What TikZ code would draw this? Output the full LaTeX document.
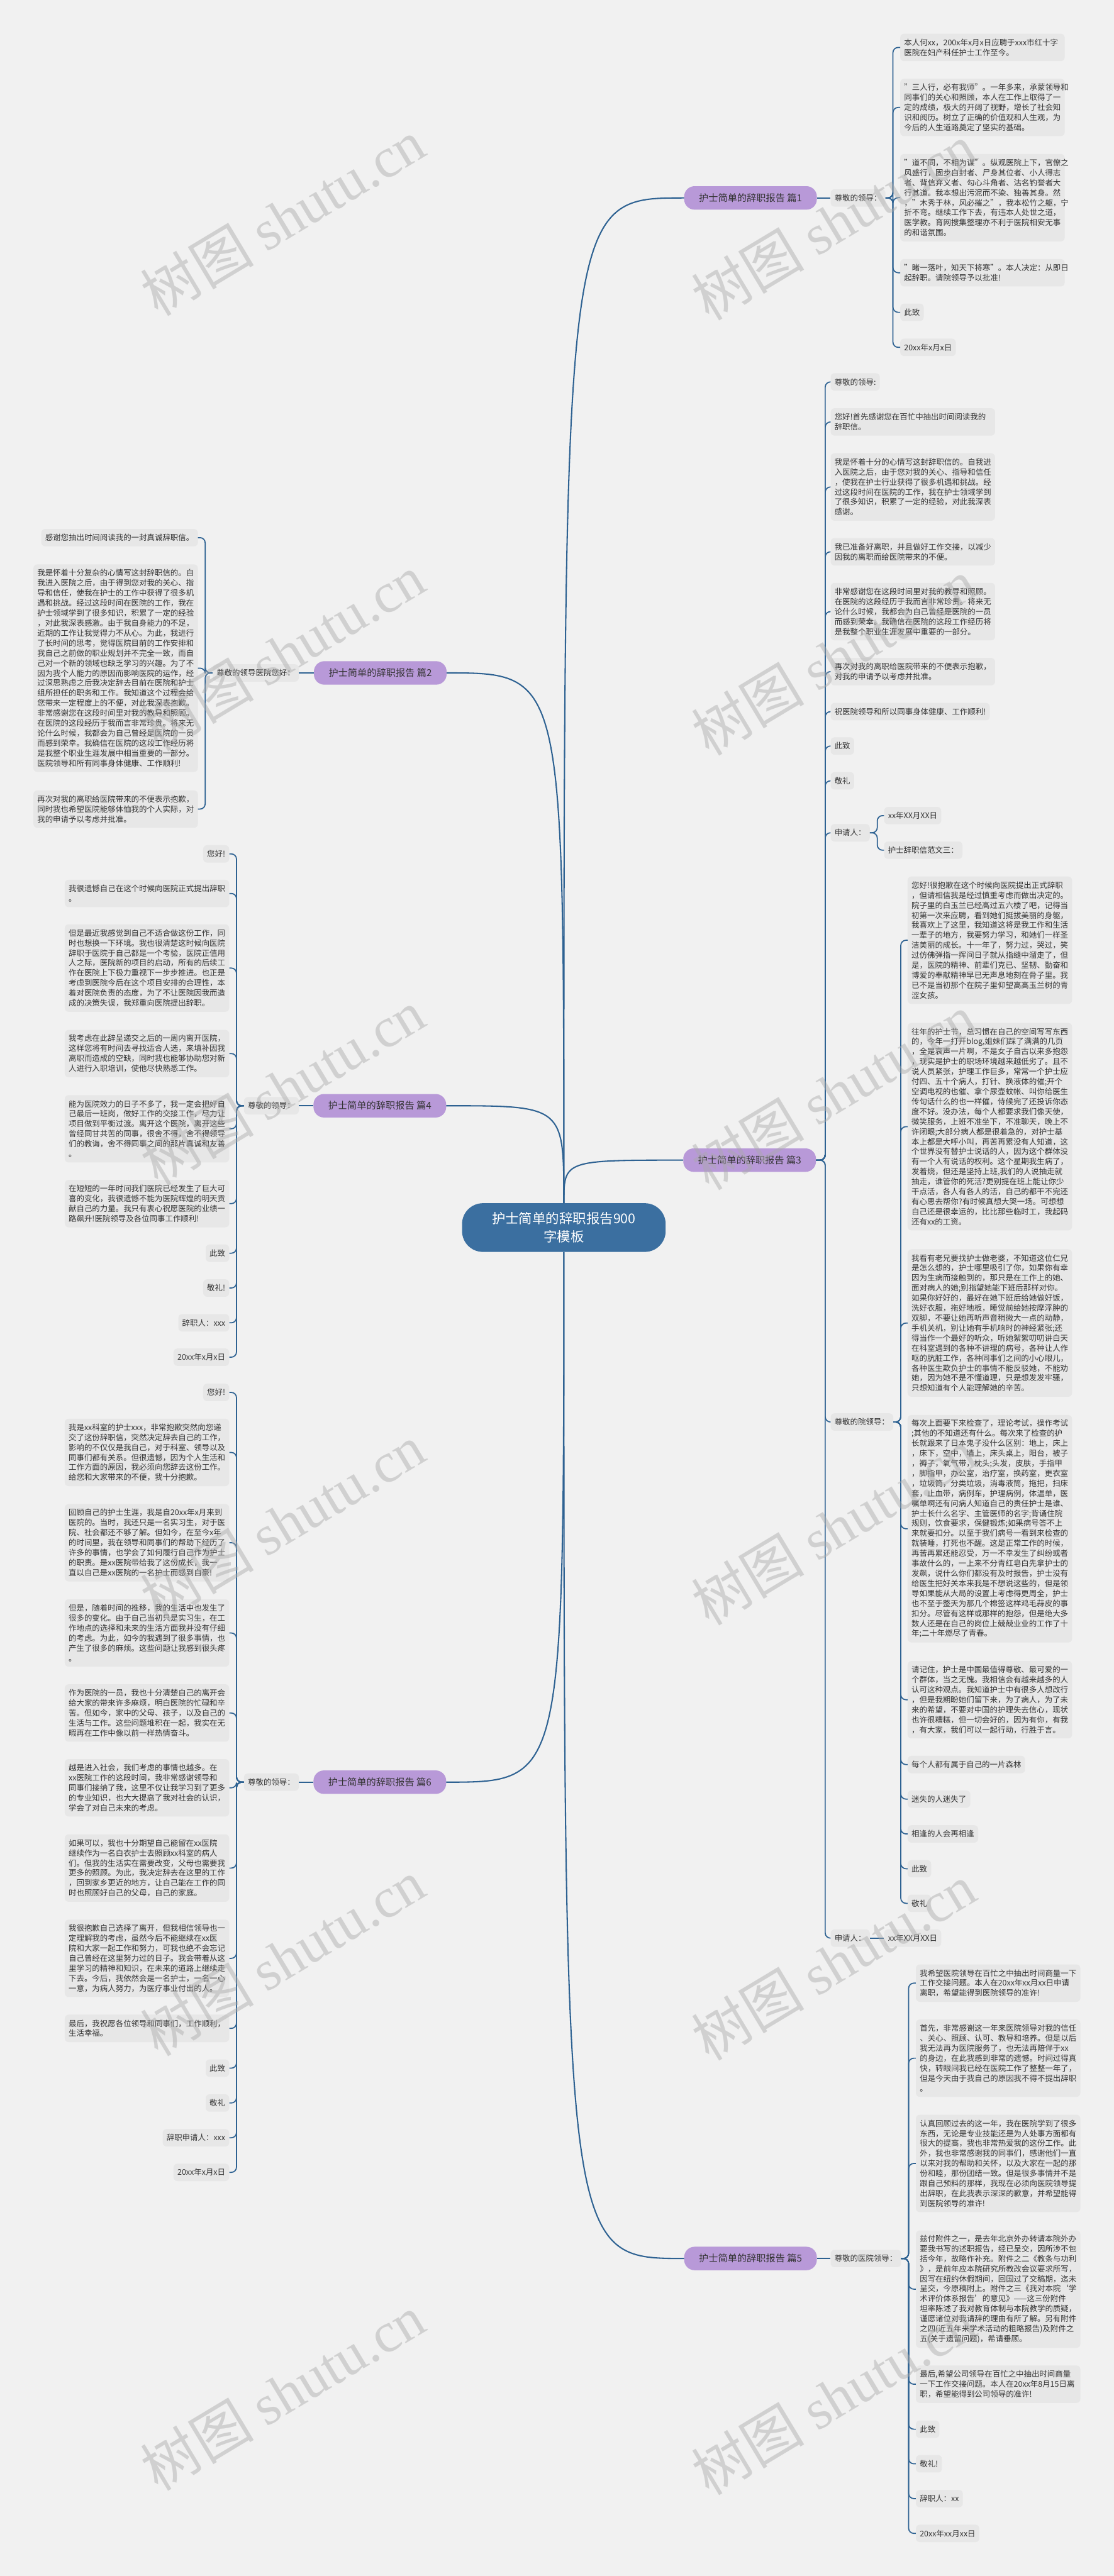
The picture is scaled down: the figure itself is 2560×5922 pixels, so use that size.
\documentclass[tikz,border=0pt]{standalone}
\usepackage{fontspec}
\setmainfont{Noto Sans CJK SC}
\newfontfamily\wmserif{Liberation Serif}
\definecolor{bgc}{RGB}{241,241,241}
\definecolor{boxc}{RGB}{231,231,231}
\definecolor{txtc}{RGB}{51,51,51}
\definecolor{linec}{RGB}{46,98,146}
\definecolor{pianc}{RGB}{184,153,216}
\definecolor{cenc}{RGB}{59,111,160}
\definecolor{wmc}{RGB}{170,170,170}
\tikzset{
 tb/.style={fill=boxc, text=txtc, rounded corners=9pt, inner xsep=9pt, inner ysep=2pt, font=\fontsize{18}{23}\selectfont},
 ml/.style={tb, text width=360pt, align=left, minimum height={23*#1+17}},
 sl/.style={tb, minimum height=40pt},
 pian/.style={fill=pianc, text=txtc, rounded corners=24pt, minimum width=305pt, minimum height=54pt, font=\fontsize{22}{26}\selectfont},
 cen/.style={fill=cenc, text=white, rounded corners=48pt, minimum width=468pt, minimum height=112pt, align=center, font=\fontsize{31}{42}\selectfont},
 mainc/.style={draw=linec, line width=3pt},
 sub/.style={draw=linec, line width=2.5pt, rounded corners=12pt},
 wm/.style={text=wmc, opacity=0.45, rotate=31, font=\fontsize{130}{130}\selectfont}
}
\begin{document}
\begin{tikzpicture}[x=1pt,y=-1pt]
\fill[bgc] (0,0) rectangle (2560,5922);
\useasboundingbox (0,0) rectangle (2560,5922);

% ---------- centre ----------
\node[cen] (c) at (1296,2822) {护士简单的辞职报告900\\字模板};

% ---------- 篇1 ----------
\node[pian] (p1) at (1725,455) {护士简单的辞职报告 篇1};
\node[sl,anchor=west] (r1lab) at (1909,455) {尊敬的领导：};
\node[ml=2,anchor=west] (r1a) at (2069,109) {本人何xx，200x年x月x日应聘于xxx市红十字\\医院在妇产科任护士工作至今。};
\node[ml=5,anchor=west] (r1b) at (2069,247) {"三人行，必有我师"。一年多来，承蒙领导和\\同事们的关心和照顾，本人在工作上取得了一\\定的成绩，极大的开阔了视野，增长了社会知\\识和阅历。树立了正确的价值观和人生观，为\\今后的人生道路奠定了坚实的基础。};
\node[ml=8,anchor=west] (r1c) at (2069,454.5) {"道不同，不相为谋"。纵观医院上下，官僚之\\风盛行，固步自封者、尸身其位者、小人得志\\者、背信弃义者、勾心斗角者、沽名钓誉者大\\行其道。我本想出污泥而不染、独善其身。然\\，"木秀于林，风必摧之"，我本松竹之躯，宁\\折不弯。继续工作下去，有违本人处世之道，\\医学教。育网搜集整理亦不利于医院相安无事\\的和谐氛围。};
\node[ml=2,anchor=west] (r1d) at (2069,627) {"睹一落叶，知天下将寒"。本人决定：从即日\\起辞职。请院领导予以批准!};
\node[sl,anchor=west] (r1e) at (2069,718) {此致};
\node[sl,anchor=west] (r1f) at (2069,798.5) {20xx年x月x日};

% ---------- 篇3 ----------
\node[pian] (p3) at (1723,2667) {护士简单的辞职报告 篇3};
\node[sl,anchor=west] (r3a) at (1909,878) {尊敬的领导:};
\node[ml=2,anchor=west] (r3b) at (1909,970) {您好!首先感谢您在百忙中抽出时间阅读我的\\辞职信。};
\node[ml=6,anchor=west] (r3c) at (1909,1119.5) {我是怀着十分的心情写这封辞职信的。自我进\\入医院之后，由于您对我的关心、指导和信任\\，使我在护士行业获得了很多机遇和挑战。经\\过这段时间在医院的工作，我在护士领域学到\\了很多知识，积累了一定的经验，对此我深表\\感谢。};
\node[ml=2,anchor=west] (r3d) at (1909,1268.5) {我已准备好离职，并且做好工作交接，以减少\\因我的离职而给医院带来的不便。};
\node[ml=5,anchor=west] (r3e) at (1909,1406) {非常感谢您在这段时间里对我的教导和照顾。\\在医院的这段经历于我而言非常珍贵。将来无\\论什么时候，我都会为自己曾经是医院的一员\\而感到荣幸。我确信在医院的这段工作经历将\\是我整个职业生涯发展中重要的一部分。};
\node[ml=2,anchor=west] (r3f) at (1909,1544) {再次对我的离职给医院带来的不便表示抱歉，\\对我的申请予以考虑并批准。};
\node[sl,anchor=west] (r3g) at (1909,1636) {祝医院领导和所以同事身体健康、工作顺利!};
\node[sl,anchor=west] (r3h) at (1909,1715) {此致};
\node[sl,anchor=west] (r3i) at (1909,1795) {敬礼};
\node[sl,anchor=west] (r3j) at (1909,1914.5) {申请人：};
\node[sl,anchor=west] (r3j1) at (2032,1875) {xx年XX月XX日};
\node[sl,anchor=west] (r3j2) at (2032,1954.5) {护士辞职信范文三：};
\node[sl,anchor=west] (r3k) at (1909,3269) {尊敬的院领导：};
\node[ml=12,anchor=west] (r3k1) at (2086,2161.5) {您好!很抱歉在这个时候向医院提出正式辞职\\，但请相信我是经过慎重考虑而做出决定的。\\院子里的白玉兰已经高过五六楼了吧，记得当\\初第一次来应聘，看到她们挺拔美丽的身躯，\\我喜欢上了这里，我知道这将是我工作和生活\\一辈子的地方，我要努力学习，和她们一样圣\\洁美丽的成长。十一年了，努力过，哭过，笑\\过仿佛弹指一挥间日子就从指缝中溜走了，但\\是，医院的精神、前辈们克已、坚韧、勤奋和\\博爱的奉献精神早已无声息地刻在骨子里。我\\已不是当初那个在院子里仰望高高玉兰树的青\\涩女孩。};
\node[ml=20,anchor=west] (r3k2) at (2086,2590) {往年的护士节，总习惯在自己的空间写写东西\\的，今年一打开blog,姐妹们踩了满满的几页\\，全是哀声一片啊，不是女子自古以来多抱怨\\，现实是护士的职场环境越来越低劣了。且不\\说人员紧张，护理工作巨多，常常一个护士应\\付四、五十个病人，打针、换液体的催;开个\\空调电视的也催、拿个尿壶蚊帐、叫你给医生\\传句话什么的也一样催，侍候完了还投诉你态\\度不好。没办法，每个人都要求我们像天使，\\微笑服务，上班不准坐下，不准聊天，晚上不\\许闭眼;大部分病人都是很着急的，对护士基\\本上都是大呼小叫，再苦再累没有人知道，这\\个世界没有替护士说话的人，因为这个群体没\\有一个人有说话的权利。这个星期我生病了，\\发着烧，但还是坚持上班,我们的人说抽走就\\抽走，谁管你的死活?更别提在班上能让你少\\干点活，各人有各人的活，自己的都干不完还\\有心思去帮你?有时候真想大哭一场。可想想\\自己还是很幸运的，比比那些临时工，我起码\\还有xx的工资。};
\node[ml=14,anchor=west] (r3k3) at (2086,3041.5) {我看有老兄要找护士做老婆，不知道这位仁兄\\是怎么想的，护士哪里吸引了你，如果你有幸\\因为生病而接触到的，那只是在工作上的她、\\面对病人的她;别指望她能下班后那样对你。\\如果你好好的，最好在她下班后给她做好饭，\\洗好衣服，拖好地板，睡觉前给她按摩浮肿的\\双脚，不要让她再听声音稍微大一点的动静，\\手机关机，别让她有手机响时的神经紧张;还\\得当作一个最好的听众，听她絮絮叨叨讲白天\\在科室遇到的各种不讲理的病号，各种让人作\\呕的肮脏工作，各种同事们之间的小心眼儿，\\各种医生欺负护士的事情不能反驳她，不能劝\\她，因为她不是不懂道理，只是想发发牢骚，\\只想知道有个人能理解她的辛苦。};
\node[ml=22,anchor=west] (r3k4) at (2086,3514.5) {每次上面要下来检查了，理论考试，操作考试\\;其他的不知道还有什么。每次来了检查的护\\长就跟来了日本鬼子没什么区别：地上，床上\\，床下，空中，墙上，床头桌上，阳台，被子\\，褥子，氧气带，枕头;头发，皮肤，手指甲\\，脚指甲，办公室，治疗室，换药室，更衣室\\，垃圾筒，分类垃圾，消毒液筒，拖把，扫床\\套，止血带，病例车，护理病例，体温单，医\\嘱单啊还有问病人知道自己的责任护士是谁、\\护士长什么名字、主管医师的名字;背诵住院\\规则，饮食要求，保健锻炼;如果病号答不上\\来就要扣分。以至于我们病号一看到来检查的\\就装睡，打死也不醒。这是正常工作的时候，\\再苦再累还能忍受，万一不幸发生了纠纷或者\\事故什么的，一上来不分青红皂白先拿护士的\\发飙，说什么你们都没有及时报告，护士没有\\给医生把好关本来我是不想说这些的，但是领\\导如果能从大局的设置上考虑得更周全，护士\\也不至于整天为那几个棉签这样鸡毛蒜皮的事\\扣分。尽管有这样或那样的抱怨，但是绝大多\\数人还是在自己的岗位上兢兢业业的工作了十\\年;二十年燃尽了青春。};
\node[ml=7,anchor=west] (r3k5) at (2086,3907.5) {请记住，护士是中国最值得尊敬、最可爱的一\\个群体，当之无愧。我相信会有越来越多的人\\认可这种观点。我知道护士中有很多人想改行\\，但是我期盼她们留下来，为了病人，为了未\\来的希望，不要对中国的护理失去信心，现状\\也许很糟糕，但一切会好的，因为有你，有我\\，有大家，我们可以一起行动，行胜于言。};
\node[sl,anchor=west] (r3k6) at (2086,4056.5) {每个人都有属于自己的一片森林};
\node[sl,anchor=west] (r3k7) at (2086,4136) {迷失的人迷失了};
\node[sl,anchor=west] (r3k8) at (2086,4216) {相逢的人会再相逢};
\node[sl,anchor=west] (r3k9) at (2086,4296) {此致};
\node[sl,anchor=west] (r3k10) at (2086,4375.5) {敬礼};
\node[sl,anchor=west] (r3l) at (1909,4455.5) {申请人：};
\node[sl,anchor=west] (r3l1) at (2032,4455.5) {xx年XX月XX日};

% ---------- 篇5 ----------
\node[pian] (p5) at (1725,5192) {护士简单的辞职报告 篇5};
\node[sl,anchor=west] (r5lab) at (1909,5192) {尊敬的医院领导：};
\node[ml=3,anchor=west] (r5a) at (2105,4559) {我希望医院领导在百忙之中抽出时间商量一下\\工作交接问题。本人在20xx年xx月xx日申请\\离职，希望能得到医院领导的准许!};
\node[ml=7,anchor=west] (r5b) at (2105,4731.5) {首先，非常感谢这一年来医院领导对我的信任\\、关心、照顾、认可、教导和培养。但是以后\\我无法再为医院服务了，也无法再陪伴于xx\\的身边，在此我感到非常的遗憾。时间过得真\\快，转眼间我已经在医院工作了整整一年了，\\但是今天由于我自己的原因我不得不提出辞职\\。};
\node[ml=9,anchor=west] (r5c) at (2105,4973.5) {认真回顾过去的这一年，我在医院学到了很多\\东西，无论是专业技能还是为人处事方面都有\\很大的提高，我也非常热爱我的这份工作。此\\外，我也非常感谢我的同事们，感谢他们一直\\以来对我的帮助和关怀，以及大家在一起的那\\份和睦，那份团结一致。但是很多事情并不是\\跟自己预料的那样，我现在必须向医院领导提\\出辞职，在此我表示深深的歉意，并希望能得\\到医院领导的准许!};
\node[ml=11,anchor=west] (r5d) at (2105,5262.5) {兹付附件之一，是去年北京外办转请本院外办\\要我书写的述职报告，经已呈交，因所涉不包\\括今年，故略作补充。附件之二《教条与功利\\》，是前年应本院研究所教改会议要求所写，\\因写在纽约休假期间，回国过了交稿期，迄未\\呈交，今原稿附上。附件之三《我对本院‘学\\术评价体系报告’的意见》——这三份附件\\坦率陈述了我对教育体制与本院教学的质疑，\\谨愿诸位对我请辞的理由有所了解。另有附件\\之四(近五年来学术活动的粗略报告)及附件之\\五(关于遗留问题)，希请垂顾。};
\node[ml=3,anchor=west] (r5e) at (2105,5481) {最后,希望公司领导在百忙之中抽出时间商量\\一下工作交接问题。本人在20xx年8月15日离\\职，希望能得到公司领导的准许!};
\node[sl,anchor=west] (r5f) at (2105,5584.5) {此致};
\node[sl,anchor=west] (r5g) at (2105,5664) {敬礼!};
\node[sl,anchor=west] (r5h) at (2105,5744) {辞职人：xx};
\node[sl,anchor=west] (r5i) at (2105,5824) {20xx年xx月xx日};

% ---------- 篇2 ----------
\node[pian] (p2) at (874,1547) {护士简单的辞职报告 篇2};
\node[sl,anchor=east] (l2lab) at (687,1547) {尊敬的领导医院您好：};
\node[sl,anchor=east] (l2a) at (455,1236) {感谢您抽出时间阅读我的一封真诚辞职信。};
\node[ml=20,anchor=east] (l2b) at (455,1536) {我是怀着十分复杂的心情写这封辞职信的。自\\我进入医院之后，由于得到您对我的关心、指\\导和信任，使我在护士的工作中获得了很多机\\遇和挑战。经过这段时间在医院的工作，我在\\护士领域学到了很多知识，积累了一定的经验\\，对此我深表感激。由于我自身能力的不足，\\近期的工作让我觉得力不从心。为此，我进行\\了长时间的思考，觉得医院目前的工作安排和\\我自己之前做的职业规划并不完全一致，而自\\己对一个新的领域也缺乏学习的兴趣。为了不\\因为我个人能力的原因而影响医院的运作，经\\过深思熟虑之后我决定辞去目前在医院和护士\\组所担任的职务和工作。我知道这个过程会给\\您带来一定程度上的不便，对此我深表抱歉。\\非常感谢您在这段时间里对我的教导和照顾。\\在医院的这段经历于我而言非常珍贵。将来无\\论什么时候，我都会为自己曾经是医院的一员\\而感到荣幸。我确信在医院的这段工作经历将\\是我整个职业生涯发展中相当重要的一部分。\\医院领导和所有同事身体健康、工作顺利!};
\node[ml=3,anchor=east] (l2c) at (455,1860) {再次对我的离职给医院带来的不便表示抱歉，\\同时我也希望医院能够体恤我的个人实际，对\\我的申请予以考虑并批准。};

% ---------- 篇4 ----------
\node[pian] (p4) at (873,2542) {护士简单的辞职报告 篇4};
\node[sl,anchor=east] (l4lab) at (687,2542) {尊敬的领导：};
\node[sl,anchor=east] (l4a) at (527,1963) {您好!};
\node[ml=2,anchor=east] (l4b) at (527,2054) {我很遗憾自己在这个时候向医院正式提出辞职\\。};
\node[ml=8,anchor=east] (l4c) at (527,2225.5) {但是最近我感觉到自己不适合做这份工作，同\\时也想换一下环境。我也很清楚这时候向医院\\辞职于医院于自己都是一个考验，医院正值用\\人之际，医院新的项目的启动，所有的后续工\\作在医院上下极力重视下一步步推进。也正是\\考虑到医院今后在这个项目安排的合理性，本\\着对医院负责的态度，为了不让医院因我而造\\成的决策失误，我郑重向医院提出辞职。};
\node[ml=4,anchor=east] (l4d) at (527,2422) {我考虑在此辞呈递交之后的一周内离开医院，\\这样您将有时间去寻找适合人选，来填补因我\\离职而造成的空缺，同时我也能够协助您对新\\人进行入职培训，使他尽快熟悉工作。};
\node[ml=6,anchor=east] (l4e) at (527,2595) {能为医院效力的日子不多了，我一定会把好自\\己最后一班岗，做好工作的交接工作，尽力让\\项目做到平衡过渡。离开这个医院，离开这些\\曾经同甘共苦的同事，很舍不得，舍不得领导\\们的教诲，舍不得同事之间的那片真诚和友善\\。};
\node[ml=4,anchor=east] (l4f) at (527,2767) {在短短的一年时间我们医院已经发生了巨大可\\喜的变化，我很遗憾不能为医院辉煌的明天贡\\献自己的力量。我只有衷心祝愿医院的业绩一\\路飙升!医院领导及各位同事工作顺利!};
\node[sl,anchor=east] (l4g) at (527,2881) {此致};
\node[sl,anchor=east] (l4h) at (527,2961) {敬礼!};
\node[sl,anchor=east] (l4i) at (527,3041) {辞职人：xxx};
\node[sl,anchor=east] (l4j) at (527,3120) {20xx年x月x日};

% ---------- 篇6 ----------
\node[pian] (p6) at (873,4097) {护士简单的辞职报告 篇6};
\node[sl,anchor=east] (l6lab) at (687,4097) {尊敬的领导：};
\node[sl,anchor=east] (l6a) at (527,3201) {您好!};
\node[ml=6,anchor=east] (l6b) at (527,3339) {我是xx科室的护士xxx，非常抱歉突然向您递\\交了这份辞职信，突然决定辞去自己的工作，\\影响的不仅仅是我自己，对于科室、领导以及\\同事们都有关系。但很遗憾，因为个人生活和\\工作方面的原因，我必须向您辞去这份工作。\\给您和大家带来的不便，我十分抱歉。};
\node[ml=7,anchor=east] (l6c) at (527,3546.5) {回顾自己的护士生涯，我是自20xx年x月来到\\医院的。当时，我还只是一名实习生，对于医\\院、社会都还不够了解。但如今，在至今x年\\的时间里，我在领导和同事们的帮助下经历了\\许多的事情，也学会了如何履行自己作为护士\\的职责。是xx医院带给我了这份成长，我一\\直以自己是xx医院的一名护士而感到自豪!};
\node[ml=6,anchor=east] (l6d) at (527,3754) {但是，随着时间的推移，我的生活中也发生了\\很多的变化。由于自己当初只是实习生，在工\\作地点的选择和未来的生活方面我并没有仔细\\的考虑。为此，如今的我遇到了很多事情，也\\产生了很多的麻烦。这些问题让我感到很头疼\\。};
\node[ml=5,anchor=east] (l6e) at (527,3938) {作为医院的一员，我也十分清楚自己的离开会\\给大家的带来许多麻烦，明白医院的忙碌和辛\\苦。但如今，家中的父母、孩子，以及自己的\\生活与工作。这些问题堆积在一起，我实在无\\暇再在工作中像以前一样热情奋斗。};
\node[ml=5,anchor=east] (l6f) at (527,4110) {越是进入社会，我们考虑的事情也越多。在\\xx医院工作的这段时间，我非常感谢领导和\\同事们接纳了我，这里不仅让我学习到了更多\\的专业知识，也大大提高了我对社会的认识，\\学会了对自己未来的考虑。};
\node[ml=6,anchor=east] (l6g) at (527,4294.5) {如果可以，我也十分期望自己能留在xx医院\\继续作为一名白衣护士去照顾xx科室的病人\\们。但我的生活实在需要改变，父母也需要我\\更多的照顾。为此，我决定辞去在这里的工作\\，回到家乡更近的地方，让自己能在工作的同\\时也照顾好自己的父母，自己的家庭。};
\node[ml=7,anchor=east] (l6h) at (527,4502) {我很抱歉自己选择了离开，但我相信领导也一\\定理解我的考虑，虽然今后不能继续在xx医\\院和大家一起工作和努力，可我也绝不会忘记\\自己曾经在这里努力过的日子。我会带着从这\\里学习的精神和知识，在未来的道路上继续走\\下去。今后，我依然会是一名护士，一名一心\\一意，为病人努力，为医疗事业付出的人。};
\node[ml=2,anchor=east] (l6i) at (527,4663) {最后，我祝愿各位领导和同事们，工作顺利，\\生活幸福。};
\node[sl,anchor=east] (l6j) at (527,4754.5) {此致};
\node[sl,anchor=east] (l6k) at (527,4834.5) {敬礼};
\node[sl,anchor=east] (l6l) at (527,4914.5) {辞职申请人：xxx};
\node[sl,anchor=east] (l6m) at (527,4994) {20xx年x月x日};

% ---------- main connectors ----------
\draw[mainc] (c.north) .. controls (c.north |- p1.west) .. (p1.west);
\draw[mainc] (c.north) .. controls (c.north |- p2.east) .. (p2.east);
\draw[mainc] (c.north) .. controls (c.north |- p4.east) .. (p4.east);
\draw[mainc] (c.north) .. controls (c.north |- p3.west) .. (p3.west);
\draw[mainc] (c.south) .. controls (c.south |- p5.west) .. (p5.west);
\draw[mainc] (c.south) .. controls (c.south |- p6.east) .. (p6.east);

% ---------- straight links ----------
\draw[sub] (p1.east) -- (r1lab.west);
\draw[sub] (p5.east) -- (r5lab.west);
\draw[sub] (p2.west) -- (l2lab.east);
\draw[sub] (p4.west) -- (l4lab.east);
\draw[sub] (p6.west) -- (l6lab.east);
\draw[sub] (r3l.east) -- (r3l1.west);

% ---------- branch connectors ----------
\foreach \n in {r1a,r1b,r1c,r1d,r1e,r1f}
  \draw[sub] (r1lab.east) -- ++(17,0) |- (\n.west);
\foreach \n in {r3a,r3b,r3c,r3d,r3e,r3f,r3g,r3h,r3i,r3j,r3k,r3l}
  \draw[sub] (p3.east) -- ++(21,0) |- (\n.west);
\foreach \n in {r3j1,r3j2}
  \draw[sub] (r3j.east) -- ++(17,0) |- (\n.west);
\foreach \n in {r3k1,r3k2,r3k3,r3k4,r3k5,r3k6,r3k7,r3k8,r3k9,r3k10}
  \draw[sub] (r3k.east) -- ++(17,0) |- (\n.west);
\foreach \n in {r5a,r5b,r5c,r5d,r5e,r5f,r5g,r5h,r5i}
  \draw[sub] (r5lab.east) -- ++(17,0) |- (\n.west);
\foreach \n in {l2a,l2b,l2c}
  \draw[sub] (l2lab.west) -- ++(-17,0) |- (\n.east);
\foreach \n in {l4a,l4b,l4c,l4d,l4e,l4f,l4g,l4h,l4i,l4j}
  \draw[sub] (l4lab.west) -- ++(-17,0) |- (\n.east);
\foreach \n in {l6a,l6b,l6c,l6d,l6e,l6f,l6g,l6h,l6i,l6j,l6k,l6l,l6m}
  \draw[sub] (l6lab.west) -- ++(-17,0) |- (\n.east);

% ---------- watermarks ----------
\foreach \yy [count=\i] in {500,1500,2500,3500,4500,5500}{
  \node[wm] (wl\i) at (650,\yy) {树图 {\wmserif shutu.cn}};
  \node[wm] (wr\i) at (1916,\yy+10) {树图 {\wmserif shutu.cn}};
}
\end{tikzpicture}
\end{document}
